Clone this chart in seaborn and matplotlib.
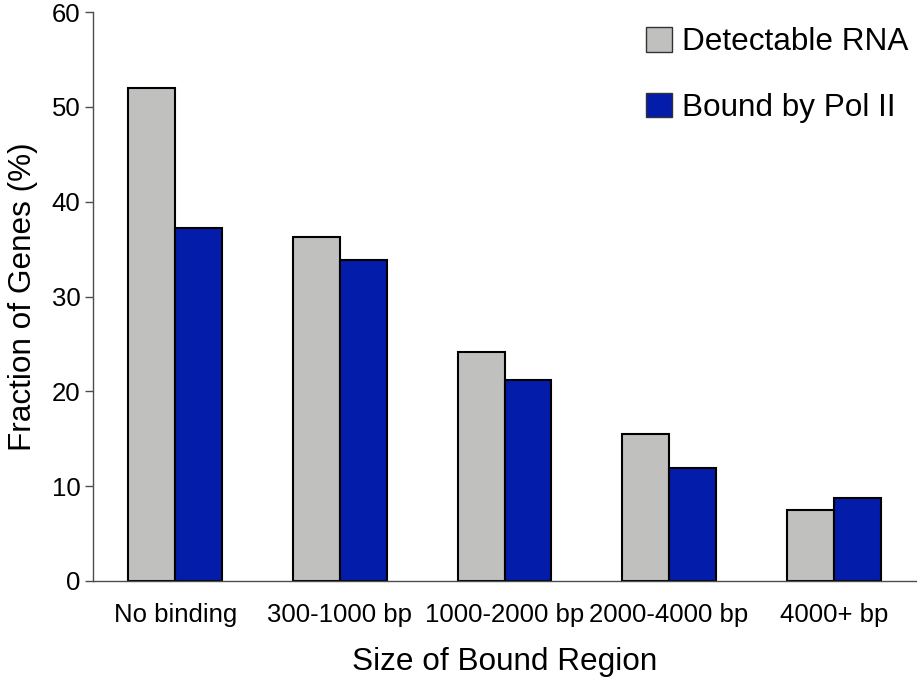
import pandas as pd
import seaborn as sns
import matplotlib.pyplot as plt
from matplotlib.patches import Patch
from matplotlib.ticker import FixedLocator

# ---------------------------
# Data
# ---------------------------

regions = ["No binding", "300-1000 bp", "1000-2000 bp", "2000-4000 bp", "4000+ bp"]
detectable_rna = [52.0, 36.3, 24.1, 15.5, 7.5]
bound_pol2 = [37.2, 33.8, 21.2, 11.9, 8.7]
series_names = ["Detectable RNA", "Bound by Pol II"]
y_ticks = [0, 10, 20, 30, 40, 50, 60]

df = pd.DataFrame({
    "region": regions * 2,
    "pct": detectable_rna + bound_pol2,
    "series": [series_names[0]] * len(regions) + [series_names[1]] * len(regions),
})

gray = "#c0c1bf"
blue = "#041caa"
spine_col = "#4d4d4d"

# ---------------------------
# Plot
# ---------------------------

sns.set_style("white")
plt.rcParams["font.family"] = ["Liberation Sans", "DejaVu Sans"]
plt.rcParams["text.color"] = "black"
plt.rcParams["axes.labelcolor"] = "black"
plt.rcParams["xtick.color"] = "black"
plt.rcParams["ytick.color"] = "black"

fig = plt.figure(figsize=(9.17, 6.82), dpi=100)
ax = fig.add_axes([93 / 917, 1 - 581 / 682, 823 / 917, (581 - 12) / 682])

sns.barplot(
    data=df, x="region", y="pct", hue="series",
    palette=[gray, blue], saturation=1, width=0.57, gap=0,
    edgecolor="black", linewidth=1.5,
    ax=ax, legend=False,
)

ax.set_xlim(-0.5, len(regions) - 0.5)
ax.set_ylim(0, 60)
ax.set_yticks(y_ticks)

# category boundary ticks
ax.xaxis.set_minor_locator(FixedLocator([i - 0.5 for i in range(len(regions) + 1)]))
ax.tick_params(axis="x", which="major", length=0, pad=16, labelsize=18.5, labelcolor="black")
ax.tick_params(axis="x", which="minor", length=5, width=1, color=spine_col, direction="out")
ax.tick_params(axis="y", length=6, width=1, color=spine_col, direction="out",
               left=True, pad=3, labelsize=18.5, labelcolor="black")

sns.despine(ax=ax)
for side in ["left", "bottom"]:
    ax.spines[side].set_color(spine_col)
    ax.spines[side].set_linewidth(1)

ax.set_xlabel("Size of Bound Region", fontsize=22.7, labelpad=14, color="black")
ax.set_ylabel("Fraction of Genes (%)", fontsize=22.7, labelpad=10, color="black")

handles = [
    Patch(facecolor=gray, edgecolor="#333333", linewidth=1),
    Patch(facecolor=blue, edgecolor="#333333", linewidth=1),
]
fig.legend(
    handles, series_names,
    loc="upper left", bbox_to_anchor=(646 / 917, 1 - 27 / 682),
    frameon=False, fontsize=22.7, handlelength=0.83, handleheight=0.83,
    handletextpad=0.3, labelspacing=1.12, borderpad=0, borderaxespad=0,
)

fig.savefig("out.png", dpi=100)
